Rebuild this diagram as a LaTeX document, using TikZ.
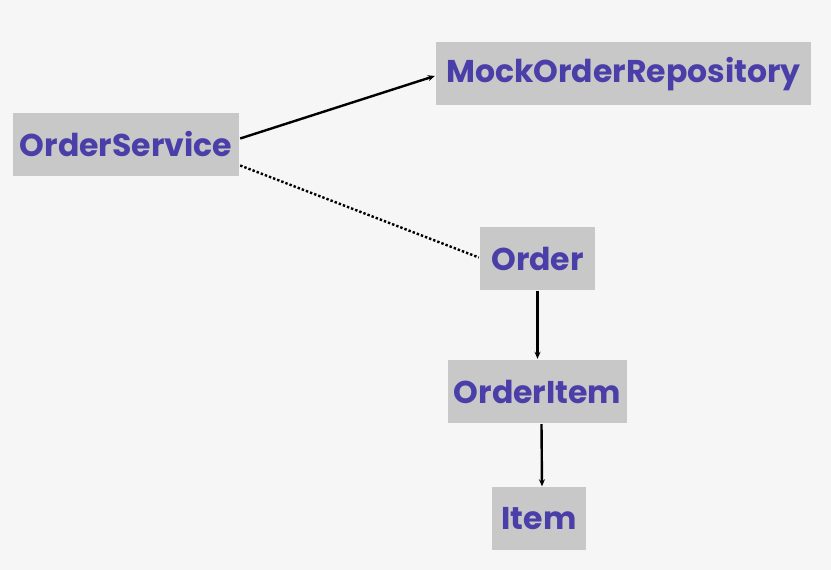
\documentclass[tikz,border=0pt]{standalone}
\usepackage{fontspec}
\setsansfont{Poppins}
\usetikzlibrary{arrows.meta}
\definecolor{bggray}{HTML}{F6F6F6}
\definecolor{boxgray}{HTML}{C8C8C8}
\definecolor{labelblue}{HTML}{4A3FA8}
\begin{document}
\begin{tikzpicture}[x=1pt, y=1pt, -{Stealth[length=7pt, width=6pt]}, line width=2.4pt]
  \tikzstyle{node}=[rectangle, fill=boxgray, minimum height=63pt, inner sep=0pt, text=labelblue, font=\sffamily\bfseries\fontsize{31.5}{34}\selectfont]
  \tikzstyle{dots}=[dotted, -]

  \fill [bggray] (0, 0) rectangle (831, 570);
  \useasboundingbox (0, 0) rectangle (831, 570);

  \node[node, minimum width=226pt] (0) at (126, 425.5) {OrderService};
  \node[node, minimum width=375pt] (1) at (623.5, 496) {MockOrderRepository};
  \node[node, minimum width=115pt] (2) at (537.5, 311.5) {Order};
  \node[node, minimum width=179pt] (3) at (537.5, 178.5) {OrderItem};
  \node[node, minimum width=94pt]  (4) at (539, 51) {Item};

  \path ([yshift=6pt]0.east) edge ([yshift=-2pt]1.west);
  \path[dots] ([yshift=-21pt]0.east) edge ([yshift=1pt]2.west);
  \path (2) edge (3);
  \path ([xshift=4pt]3.south) edge ([xshift=3pt]4.north);
\end{tikzpicture}
\end{document}
